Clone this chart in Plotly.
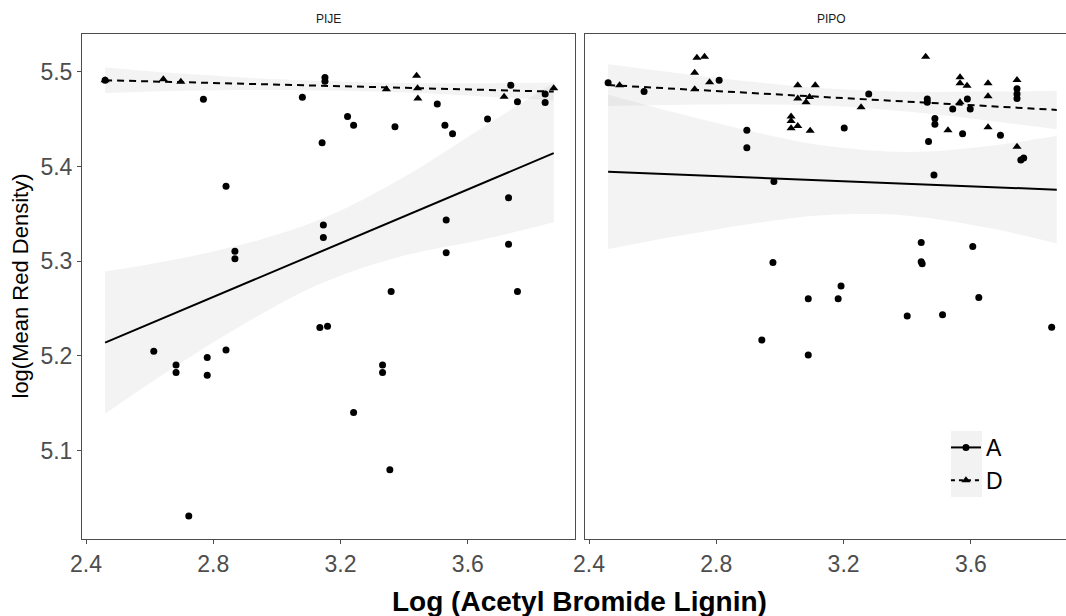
import plotly.graph_objects as go

# ---------------- data ----------------
# PIJE panel, group A (circles)
pije_a_x = [2.46, 2.769, 3.080, 2.840, 2.868, 2.868, 3.151, 3.151, 3.142, 3.222,
            3.241, 3.371, 3.504, 3.528, 3.552, 3.662, 3.735, 3.756, 3.843, 3.843,
            3.146, 3.146, 3.532, 3.532, 3.728, 3.728, 2.613, 2.683, 2.683, 2.781,
            2.781, 2.840, 2.723, 3.135, 3.159, 3.359, 3.756, 3.332, 3.332, 3.241,
            3.355]
pije_a_y = [5.491, 5.471, 5.473, 5.379, 5.3105, 5.3025, 5.494, 5.490, 5.425, 5.4526,
            5.4436, 5.442, 5.466, 5.4436, 5.4344, 5.450, 5.4857, 5.4684, 5.4765, 5.4674,
            5.3383, 5.325, 5.3436, 5.309, 5.367, 5.318, 5.205, 5.1905, 5.1825, 5.1983,
            5.1797, 5.2063, 5.0312, 5.2299, 5.2313, 5.2681, 5.2681, 5.1905, 5.1825, 5.1404,
            5.080]

# PIJE panel, group D (triangles)
pije_d_x = [2.46, 2.643, 2.698, 3.344, 3.439, 3.442, 3.443, 3.714, 3.870]
pije_d_y = [5.491, 5.492, 5.4895, 5.4815, 5.4958, 5.4825, 5.4716, 5.4737, 5.4825]

# PIPO panel, group A (circles)
pipo_a_x = [2.46, 2.573, 2.809, 2.896, 2.896, 2.981, 2.978, 3.202, 3.279, 3.463,
            3.463, 3.487, 3.487, 3.467, 3.484, 3.543, 3.589, 3.598, 3.574, 3.693,
            3.745, 3.745, 3.745, 3.757, 3.766, 3.444, 3.444, 3.447, 3.606, 3.089,
            2.943, 3.089, 3.192, 3.183, 3.400, 3.511, 3.625, 3.854]
pipo_a_y = [5.4884, 5.479, 5.491, 5.4383, 5.4197, 5.3842, 5.2986, 5.4407, 5.4765, 5.4713,
            5.4678, 5.4505, 5.4445, 5.4263, 5.391, 5.4607, 5.4713, 5.4607, 5.4344, 5.433,
            5.482, 5.4765, 5.4716, 5.4067, 5.4088, 5.3197, 5.2994, 5.2973, 5.3155, 5.2604,
            5.2168, 5.201, 5.2737, 5.2604, 5.2421, 5.2436, 5.2618, 5.2302]

# PIPO panel, group D (triangles)
pipo_d_x = [2.496, 2.739, 2.763, 2.732, 2.732, 2.779, 3.056, 3.111, 3.056, 3.093,
            3.082, 3.035, 3.035, 3.035, 3.056, 3.095, 3.255, 3.458, 3.528, 3.566,
            3.566, 3.588, 3.566, 3.654, 3.654, 3.654, 3.745, 3.745]
pipo_d_y = [5.4857, 5.5147, 5.5158, 5.499, 5.4815, 5.489, 5.4857, 5.4857, 5.4716, 5.4733,
            5.4678, 5.4526, 5.448, 5.4404, 5.4428, 5.4376, 5.4625, 5.5158, 5.4383, 5.4941,
            5.4878, 5.4853, 5.4678, 5.4878, 5.474, 5.4415, 5.4913, 5.4207]

# linear-model smooths (fit and confidence band) sampled along x
fit_x = [2.46, 2.70, 2.95, 3.15, 3.40, 3.65, 3.87]

pije_a_fit = [5.214, 5.248, 5.2835, 5.3118, 5.3473, 5.3827, 5.414]
pije_a_lo = [5.139, 5.193, 5.244, 5.278, 5.306, 5.323, 5.341]
pije_a_hi = [5.289, 5.303, 5.323, 5.346, 5.389, 5.442, 5.488]

pije_d_fit = [5.491, 5.489, 5.4868, 5.4851, 5.483, 5.4809, 5.479]
pije_d_lo = [5.4775, 5.480, 5.4808, 5.4801, 5.478, 5.4739, 5.4695]
pije_d_hi = [5.5045, 5.498, 5.4928, 5.4901, 5.488, 5.4879, 5.4885]

pipo_a_fit = [5.3943, 5.3911, 5.3878, 5.3851, 5.3817, 5.3784, 5.3755]
pipo_a_lo = [5.3128, 5.3279, 5.3415, 5.3487, 5.3481, 5.3355, 5.3187]
pipo_a_hi = [5.4758, 5.4543, 5.4341, 5.4215, 5.4153, 5.4213, 5.4323]

pipo_d_fit = [5.4859, 5.4814, 5.4768, 5.4731, 5.4684, 5.4638, 5.4597]
pipo_d_lo = [5.4639, 5.4651, 5.4655, 5.4640, 5.4579, 5.4486, 5.4394]
pipo_d_hi = [5.5079, 5.4977, 5.4881, 5.4822, 5.4789, 5.4790, 5.4800]

panels = ["PIJE", "PIPO"]
groups = ["A", "D"]
x_ticks = [2.4, 2.8, 3.2, 3.6]
y_ticks = [5.1, 5.2, 5.3, 5.4, 5.5]

# ---------------- styling ----------------
FONT = "Liberation Sans, Arial, Helvetica, sans-serif"
BAND = "rgba(153,153,153,0.12)"
DASH = "7px,5px"
AXIS_COL = "#4d4d4d"

fig = go.Figure()

panel_data = [
    ("x", "y",
     (pije_a_x, pije_a_y, pije_a_fit, pije_a_lo, pije_a_hi),
     (pije_d_x, pije_d_y, pije_d_fit, pije_d_lo, pije_d_hi)),
    ("x2", "y2",
     (pipo_a_x, pipo_a_y, pipo_a_fit, pipo_a_lo, pipo_a_hi),
     (pipo_d_x, pipo_d_y, pipo_d_fit, pipo_d_lo, pipo_d_hi)),
]

for xa, ya, grp_a, grp_d in panel_data:
    # confidence ribbons first
    for _, _, fit, lo, hi in (grp_a, grp_d):
        fig.add_trace(go.Scatter(x=fit_x, y=lo, mode="lines", line=dict(width=0, shape="spline"),
                                 xaxis=xa, yaxis=ya, showlegend=False, hoverinfo="skip"))
        fig.add_trace(go.Scatter(x=fit_x, y=hi, mode="lines", line=dict(width=0, shape="spline"),
                                 fill="tonexty", fillcolor=BAND,
                                 xaxis=xa, yaxis=ya, showlegend=False, hoverinfo="skip"))
    # fitted lines
    fig.add_trace(go.Scatter(x=fit_x, y=grp_a[2], mode="lines",
                             line=dict(color="black", width=2),
                             xaxis=xa, yaxis=ya, showlegend=False))
    fig.add_trace(go.Scatter(x=fit_x, y=grp_d[2], mode="lines",
                             line=dict(color="black", width=2, dash=DASH),
                             xaxis=xa, yaxis=ya, showlegend=False))
    # observations
    fig.add_trace(go.Scatter(x=grp_a[0], y=grp_a[1], mode="markers",
                             marker=dict(symbol="circle", size=7, color="black"),
                             xaxis=xa, yaxis=ya, showlegend=False))
    fig.add_trace(go.Scatter(x=grp_d[0], y=grp_d[1], mode="markers",
                             marker=dict(symbol="triangle-up", size=8, color="black"),
                             xaxis=xa, yaxis=ya, showlegend=False))

# legend entries
fig.add_trace(go.Scatter(x=[None], y=[None], mode="lines+markers", name=groups[0],
                         line=dict(color="black", width=2),
                         marker=dict(symbol="circle", size=7, color="black"),
                         xaxis="x2", yaxis="y2"))
fig.add_trace(go.Scatter(x=[None], y=[None], mode="lines+markers", name=groups[1],
                         line=dict(color="black", width=2, dash="4px,4px"),
                         marker=dict(symbol="triangle-up", size=8, color="black"),
                         xaxis="x2", yaxis="y2"))

axis_common = dict(
    showgrid=False, zeroline=False, showline=True, linecolor=AXIS_COL, linewidth=1,
    ticks="outside", ticklen=4, tickwidth=1, tickcolor=AXIS_COL,
    tickfont=dict(family=FONT, size=23, color=AXIS_COL),
)
x_range = [2.3874, 3.9368]
y_range = [5.0068, 5.5398]

fig.update_layout(
    width=1066, height=616,
    margin=dict(l=82, r=0, t=34, b=77),
    paper_bgcolor="white", plot_bgcolor="white",
    font=dict(family=FONT, color="black"),
    xaxis=dict(domain=[0, 0.501], range=x_range, tickvals=x_ticks, mirror=True,
               anchor="y", **axis_common),
    yaxis=dict(domain=[0, 1], range=y_range, tickvals=y_ticks, mirror=True,
               anchor="x", **axis_common),
    xaxis2=dict(domain=[0.5112, 1], range=[x_range[0], 3.899], tickvals=x_ticks,
                mirror=True, anchor="y2", **axis_common),
    yaxis2=dict(domain=[0, 1], range=y_range, tickvals=y_ticks, anchor="x2",
                **{**axis_common, "showticklabels": False, "ticks": ""}),
    showlegend=True,
    legend=dict(x=0.878, y=0.2238, xanchor="left", yanchor="top",
                bgcolor="rgba(0,0,0,0)", font=dict(family=FONT, size=23, color="black"),
                tracegroupgap=0, itemwidth=30, traceorder="normal"),
)

# strip labels and axis titles
strip_x = [0.2505, 0.7617]
for name, sx in zip(panels, strip_x):
    fig.add_annotation(text=name, x=sx, y=1.0297, xref="paper", yref="paper",
                       showarrow=False, xanchor="center", yanchor="middle",
                       font=dict(family=FONT, size=12, color="#1a1a1a"))

fig.add_annotation(text="<b>Log (Acetyl Bromide Lignin)</b>", x=0.506, y=-0.1228,
                   xref="paper", yref="paper", showarrow=False,
                   xanchor="center", yanchor="middle",
                   font=dict(family=FONT, size=28, color="black"))
fig.add_annotation(text="log(Mean Red Density)", x=-0.063, y=0.5,
                   xref="paper", yref="paper", showarrow=False, textangle=-90,
                   xanchor="center", yanchor="middle",
                   font=dict(family=FONT, size=22, color="black"))

# grey backdrop behind the legend keys
fig.add_shape(type="rect", xref="paper", yref="paper",
              x0=0.8831, x1=0.9146, y0=0.0832, y1=0.2139,
              fillcolor="#f2f2f2", line=dict(width=0), layer="below")

fig.write_html("out.html", config={"displayModeBar": False})
